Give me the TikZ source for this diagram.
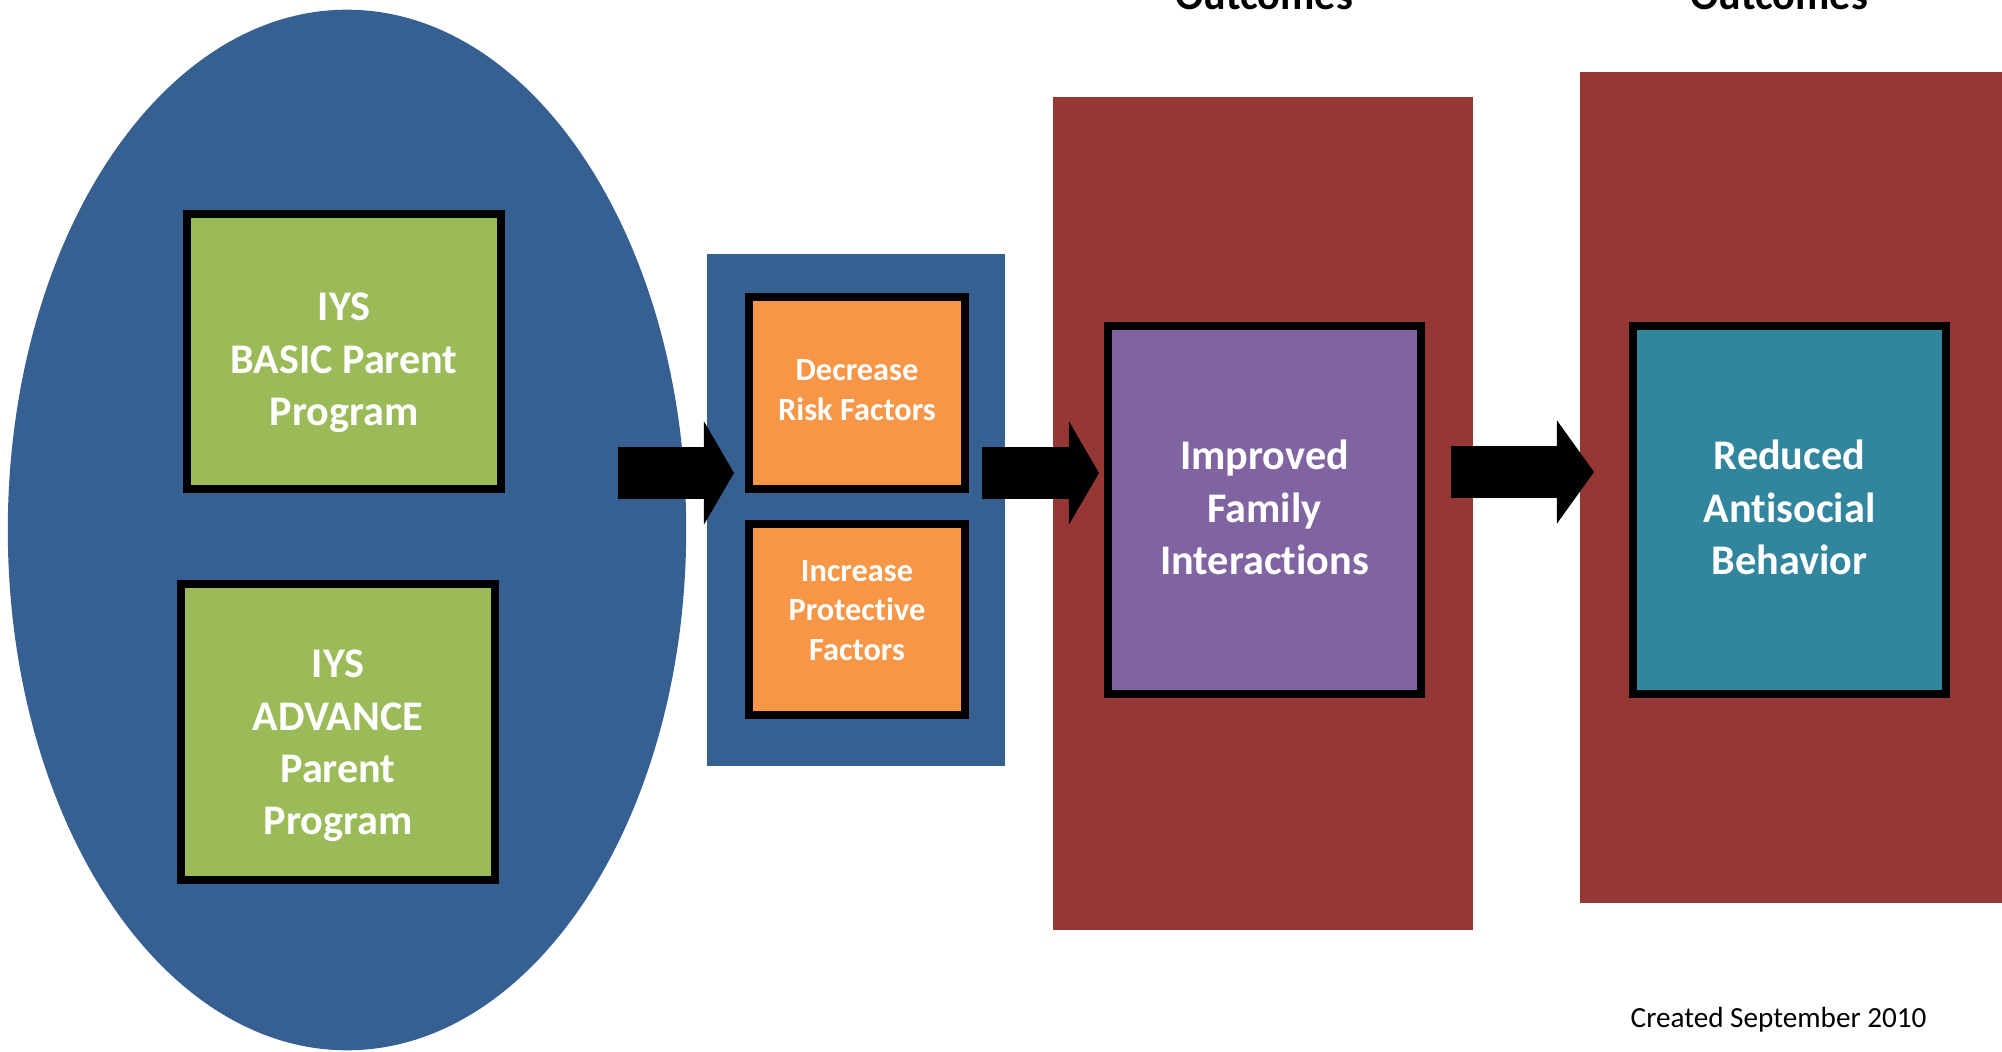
\documentclass[tikz,border=0pt]{standalone}
\usepackage{fontspec}
\setmainfont{Carlito}[Ligatures={TeX,NoCommon}]
\usetikzlibrary{arrows.meta,shapes.geometric}

\definecolor{progblau}{HTML}{376092}
\definecolor{gruen}{HTML}{9BBB59}
\definecolor{orangefeld}{HTML}{F79646}
\definecolor{rotfeld}{HTML}{953735}
\definecolor{lila}{HTML}{8064A2}
\definecolor{petrol}{HTML}{31859C}

\begin{document}
\begin{tikzpicture}[x=0.01cm,y=-0.01cm,
    feld/.style={inner sep=0pt, outer sep=0pt},
    kasten/.style={draw=black, line width=0.08cm, inner sep=0pt},
    schrift/.style={align=center, text=white, inner sep=0pt},
    gross/.style={font=\fontsize{12}{14.9}\selectfont\bfseries},
    klein/.style={font=\fontsize{9.2}{11.3}\selectfont\bfseries},
    blockpfeil/.style={draw=black, line width=0.52cm, -{Triangle[length=0.3cm,width=1.03cm,line width=0pt]}}]
  \useasboundingbox (0,0) rectangle (2002,1052);
  \clip (0,0) rectangle (2002,1052);

  % Programme (Ellipse)
  \node[feld, ellipse, fill=progblau, minimum width=6.78cm, minimum height=10.4cm] (prog) at (347,530) {};
  \node[kasten, fill=gruen, minimum width=3.14cm, minimum height=2.75cm] (basic) at (344,351.5) {};
  \node[schrift, gross] (basictext) at (344,363) {IYS\\BASIC Parent\\Program};
  \node[kasten, fill=gruen, minimum width=3.14cm, minimum height=2.96cm] (advance) at (338,732) {};
  \node[schrift, gross] (advancetext) at (338,746) {IYS\\ADVANCE\\Parent\\Program};

  % Faktoren
  \node[feld, fill=progblau, minimum width=2.98cm, minimum height=5.12cm] (mitte) at (856,510) {};
  \node[kasten, fill=orangefeld, minimum width=2.16cm, minimum height=1.92cm] (risiko) at (857,393) {};
  \node[schrift, klein] (risikotext) at (857,390.5) {Decrease\\Risk Factors};
  \node[kasten, fill=orangefeld, minimum width=2.16cm, minimum height=1.91cm] (schutz) at (857,619.5) {};
  \node[schrift, klein] (schutztext) at (857,610.5) {Increase\\Protective\\Factors};

  % Outcomes
  \node[feld, fill=rotfeld, minimum width=4.20cm, minimum height=8.33cm] (kurz) at (1263,513.5) {};
  \node[feld, fill=rotfeld, minimum width=4.22cm, minimum height=8.31cm] (lang) at (1791,487.5) {};
  \node[gross, anchor=base, inner sep=0pt] (titelkurz) at (1264,10) {Outcomes};
  \node[gross, anchor=base, inner sep=0pt] (titellang) at (1779,10) {Outcomes};
  \node[kasten, fill=lila, minimum width=3.13cm, minimum height=3.68cm] (familie) at (1264.5,510) {};
  \node[schrift, gross] (familietext) at (1264.5,507.5) {Improved\\Family\\Interactions};
  \node[kasten, fill=petrol, minimum width=3.13cm, minimum height=3.68cm] (verhalten) at (1789.5,510) {};
  \node[schrift, gross] (verhaltentext) at (1789.5,507.5) {Reduced\\Antisocial\\Behavior};

  % Pfeile
  \coordinate (p1a) at (618,473);  \coordinate (p1b) at (734,473);
  \coordinate (p2a) at (982,473);  \coordinate (p2b) at (1099,473);
  \coordinate (p3a) at (1451,472); \coordinate (p3b) at (1594,472);
  \draw[blockpfeil] (p1a) -- (p1b);
  \draw[blockpfeil] (p2a) -- (p2b);
  \draw[blockpfeil, -{Triangle[length=0.37cm,width=1.03cm,line width=0pt]}] (p3a) -- (p3b);

  % Datum
  \node[font=\fontsize{8.3}{10}\selectfont, anchor=base west, inner sep=0pt] (datum) at (1630,1027) {Created September 2010};
\end{tikzpicture}
\end{document}
